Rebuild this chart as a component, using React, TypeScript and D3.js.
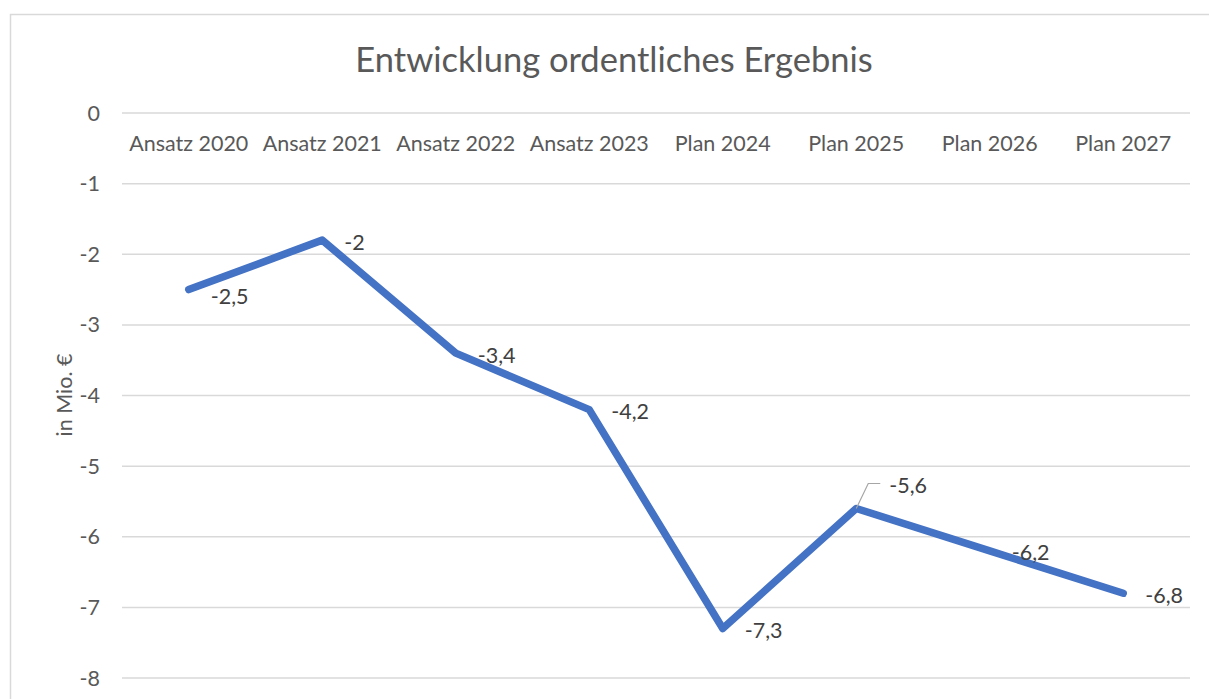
import React, { useEffect, useRef } from 'react';
import * as d3 from 'd3';

const categories = ['Ansatz 2020', 'Ansatz 2021', 'Ansatz 2022', 'Ansatz 2023', 'Plan 2024', 'Plan 2025', 'Plan 2026', 'Plan 2027'];
const values = [-2.5, -1.8, -3.4, -4.2, -7.3, -5.6, -6.2, -6.8];
const valueLabels = ['-2,5', '-2', '-3,4', '-4,2', '-7,3', '-5,6', '-6,2', '-6,8'];
const yTicks = [0, -1, -2, -3, -4, -5, -6, -7, -8];

const W = 1209;
const H = 699;
const FONT = 'Lato, "Open Sans", sans-serif';
const FS = 21.5;

export default function App() {
  const ref = useRef<SVGSVGElement>(null);

  useEffect(() => {
    document.body.style.margin = '0';
    const svg = d3.select(ref.current);
    svg.selectAll('*').remove();

    // chart frame
    svg.append('rect')
      .attr('x', 10.5).attr('y', 14.5)
      .attr('width', W + 20).attr('height', H + 20)
      .attr('fill', 'white')
      .attr('stroke', '#d9d9d9').attr('stroke-width', 1.5);

    const x = d3.scaleBand<string>().domain(categories).range([122, 1190]);
    const y = d3.scaleLinear().domain([-8, 0]).range([678, 113]);

    // title
    svg.append('text')
      .attr('x', 614).attr('y', 72)
      .attr('text-anchor', 'middle')
      .attr('font-family', FONT).attr('font-size', 34.5)
      .attr('fill', '#595959')
      .text('Entwicklung ordentliches Ergebnis');

    // gridlines
    svg.append('g').selectAll('line').data(yTicks).join('line')
      .attr('x1', 122).attr('x2', 1190)
      .attr('y1', d => y(d)).attr('y2', d => y(d))
      .attr('stroke', '#d9d9d9').attr('stroke-width', 1.5);

    // y tick labels
    svg.append('g').selectAll('text').data(yTicks).join('text')
      .attr('x', 100).attr('y', d => y(d))
      .attr('dy', '0.35em')
      .attr('text-anchor', 'end')
      .attr('font-family', FONT).attr('font-size', FS)
      .attr('fill', '#595959')
      .text(d => String(d));

    // y axis title
    svg.append('text')
      .attr('transform', 'translate(72,395) rotate(-90)')
      .attr('text-anchor', 'middle')
      .attr('font-family', FONT).attr('font-size', FS)
      .attr('fill', '#595959')
      .text('in Mio. €');

    // category labels (axis sits at 0, labels just below it)
    svg.append('g').selectAll('text').data(categories).join('text')
      .attr('x', d => (x(d) as number) + x.bandwidth() / 2)
      .attr('y', 151)
      .attr('text-anchor', 'middle')
      .attr('font-family', FONT).attr('font-size', FS)
      .attr('fill', '#595959')
      .text(d => d);

    const px = (i: number) => (x(categories[i]) as number) + x.bandwidth() / 2;

    // line
    const line = d3.line<number>()
      .x((_, i) => px(i))
      .y(d => y(d));
    svg.append('path')
      .attr('d', line(values))
      .attr('fill', 'none')
      .attr('stroke', '#4472C4')
      .attr('stroke-width', 7.5)
      .attr('stroke-linecap', 'round')
      .attr('stroke-linejoin', 'round');

    // leader line for the moved label of Plan 2025
    const li = 5;
    svg.append('path')
      .attr('d', `M${px(li)},${y(values[li])} L${px(li) + 12},${y(values[li]) - 25} L${px(li) + 24},${y(values[li]) - 25}`)
      .attr('fill', 'none')
      .attr('stroke', '#a6a6a6')
      .attr('stroke-width', 1.2);

    // data labels, right of point; a few nudged like in the source chart
    const nudge: Record<number, [number, number]> = { 0: [0, 5], 5: [11, -25] };
    svg.append('g').selectAll('text').data(values).join('text')
      .attr('x', (_, i) => px(i) + 22 + (nudge[i] ? nudge[i][0] : 0))
      .attr('y', (d, i) => y(d) + 2 + (nudge[i] ? nudge[i][1] : 0))
      .attr('dy', '0.35em')
      .attr('font-family', FONT).attr('font-size', FS)
      .attr('fill', '#404040')
      .text((_, i) => valueLabels[i]);
  }, []);

  return <svg ref={ref} width={W} height={H} style={{ display: 'block' }} />;
}
